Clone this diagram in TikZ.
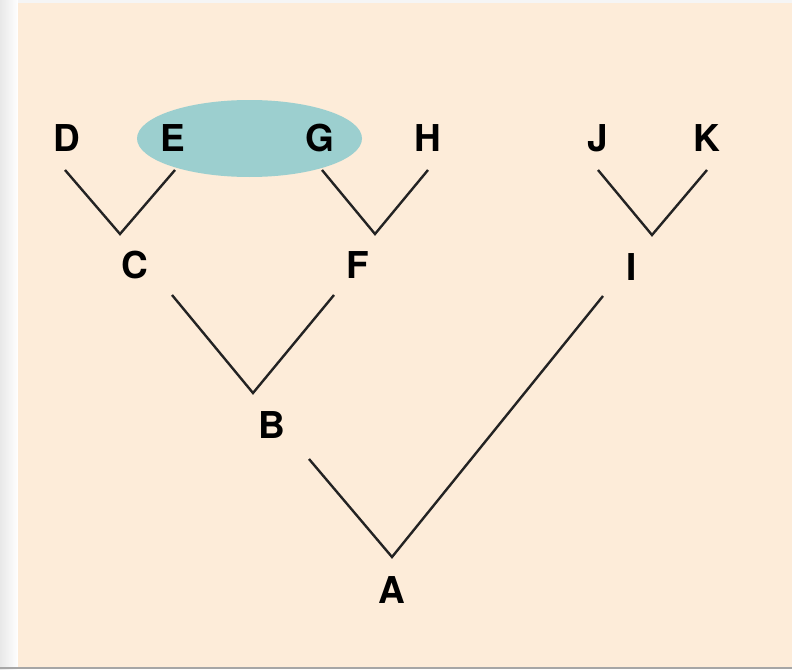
\documentclass[tikz,border=0pt]{standalone}
\usepackage{fontspec}
\setmainfont{TeX Gyre Heros}
\definecolor{paper}{RGB}{253,236,217}
\definecolor{clade}{RGB}{156,207,207}
\definecolor{ink}{RGB}{35,35,35}
\tikzset{
    taxon/.style={font=\fontsize{37}{40}\selectfont\bfseries, text=black,
                  text height=27pt, text depth=0pt, inner sep=0pt},
    branch/.style={draw=ink, line width=2.4pt, line join=miter},
}
\begin{document}
\begin{tikzpicture}[x=1pt, y=-1pt]
        \useasboundingbox (0,0) rectangle (792,669);
        \shade[left color=gray!18, right color=white] (0,0) rectangle (18,669);
        \fill[gray!8] (18,0) rectangle (792,3);
        \fill[paper] (18,3) rectangle (792,667);
        \fill[gray!70] (0,667) rectangle (792,669);
        \fill[clade] (249.5,138.5) ellipse [x radius=112.5pt, y radius=38.5pt];

        \node[taxon] (d) at (67, 138)  {D};
        \node[taxon] (e) at (173, 138) {E};
        \node[taxon] (g) at (320, 138) {G};
        \node[taxon] (h) at (428, 138) {H};
        \node[taxon] (j) at (598, 138) {J};
        \node[taxon] (k) at (707, 138) {K};
        \node[taxon] (c) at (135, 265) {C};
        \node[taxon] (f) at (358, 265) {F};
        \node[taxon] (i) at (632, 267) {I};
        \node[taxon] (b) at (272, 425) {B};
        \node[taxon] (a) at (392, 590) {A};

        \coordinate (d1) at (65, 170);
        \coordinate (e1) at (175, 170);
        \coordinate (c0) at (120, 234);
        \coordinate (g1) at (322, 170);
        \coordinate (h1) at (428, 170);
        \coordinate (f0) at (375, 234);
        \coordinate (j1) at (598, 170);
        \coordinate (k1) at (707, 170);
        \coordinate (i0) at (652, 235);
        \coordinate (c1) at (172, 295);
        \coordinate (f1) at (334, 295);
        \coordinate (b0) at (253, 393);
        \coordinate (b1) at (309, 459);
        \coordinate (i1) at (603, 296);
        \coordinate (a0) at (392, 557);

        \draw[branch] (d1) -- (c0) -- (e1);
        \draw[branch] (g1) -- (f0) -- (h1);
        \draw[branch] (j1) -- (i0) -- (k1);
        \draw[branch] (c1) -- (b0) -- (f1);
        \draw[branch] (b1) -- (a0) -- (i1);
\end{tikzpicture}
\end{document}
